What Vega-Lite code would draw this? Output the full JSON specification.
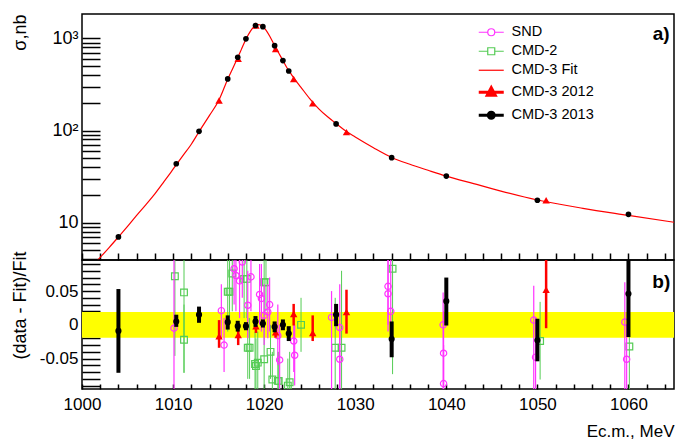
{
  "$schema": "https://vega.github.io/schema/vega-lite/v6.json",
  "background": "white",
  "padding": {"left": 10, "top": 13, "right": 2, "bottom": 2},
  "spacing": 0,
  "bounds": "flush",
  "config": {
    "view": {"stroke": "black", "strokeWidth": 1.5},
    "font": "Liberation Sans",
    "axis": {"domain": false, "grid": false, "labelFont": "Liberation Sans", "titleFont": "Liberation Sans", "labelColor": "black", "titleColor": "black", "tickColor": "black", "titleFontWeight": "normal"}
  },
  "datasets": {
    "fit": [
      {"E": 1001.7, "s": 3.9}, {"E": 1002, "s": 4.2}, {"E": 1003, "s": 5.4}, {"E": 1004, "s": 7.0}, {"E": 1005, "s": 9.1},
      {"E": 1006, "s": 12.0}, {"E": 1007, "s": 15.6}, {"E": 1008, "s": 20.5}, {"E": 1009, "s": 27.8}, {"E": 1010, "s": 38},
      {"E": 1011, "s": 52}, {"E": 1012, "s": 71}, {"E": 1012.85, "s": 97}, {"E": 1014, "s": 146}, {"E": 1015, "s": 210},
      {"E": 1016, "s": 360}, {"E": 1016.5, "s": 460}, {"E": 1017, "s": 590}, {"E": 1017.5, "s": 760}, {"E": 1018, "s": 980},
      {"E": 1018.5, "s": 1200}, {"E": 1019, "s": 1370}, {"E": 1019.4, "s": 1410}, {"E": 1019.8, "s": 1360}, {"E": 1020.2, "s": 1230},
      {"E": 1020.6, "s": 1060}, {"E": 1021, "s": 890}, {"E": 1021.5, "s": 720}, {"E": 1022, "s": 590}, {"E": 1022.5, "s": 480},
      {"E": 1023, "s": 405}, {"E": 1023.5, "s": 345}, {"E": 1024, "s": 298}, {"E": 1025, "s": 222}, {"E": 1026, "s": 172},
      {"E": 1027, "s": 140}, {"E": 1028, "s": 117}, {"E": 1029, "s": 98}, {"E": 1030, "s": 85}, {"E": 1032, "s": 65},
      {"E": 1034, "s": 51}, {"E": 1036, "s": 43}, {"E": 1038, "s": 37}, {"E": 1040, "s": 32}, {"E": 1043, "s": 26.5},
      {"E": 1046, "s": 22}, {"E": 1050, "s": 17.6}, {"E": 1055, "s": 14.3}, {"E": 1060, "s": 12.0}, {"E": 1065, "s": 10.1}
    ],
    "c13": [
      {"E": 1004.0, "s": 7.0, "v": -0.009, "lo": -0.071, "hi": 0.053},
      {"E": 1010.35, "s": 43.6, "v": 0.005, "lo": -0.003, "hi": 0.015},
      {"E": 1012.85, "s": 98, "v": 0.015, "lo": 0.003, "hi": 0.027},
      {"E": 1016.0, "s": 363, "v": 0.004, "lo": -0.007, "hi": 0.014},
      {"E": 1017.1, "s": 624, "v": -0.002, "lo": -0.01, "hi": 0.006},
      {"E": 1018.0, "s": 990, "v": -0.002, "lo": -0.008, "hi": 0.004},
      {"E": 1019.05, "s": 1380, "v": 0.005, "lo": -0.003, "hi": 0.013},
      {"E": 1019.86, "s": 1340, "v": 0.002, "lo": -0.004, "hi": 0.008},
      {"E": 1021.15, "s": 834, "v": -0.003, "lo": -0.011, "hi": 0.005},
      {"E": 1022.06, "s": 574, "v": 0.0, "lo": -0.008, "hi": 0.008},
      {"E": 1022.7, "s": 443, "v": -0.013, "lo": -0.024, "hi": -0.002},
      {"E": 1027.9, "s": 118, "v": 0.015, "lo": -0.002, "hi": 0.031},
      {"E": 1034.0, "s": 50.7, "v": -0.021, "lo": -0.048, "hi": 0.005},
      {"E": 1040.0, "s": 32, "v": 0.035, "lo": -0.001, "hi": 0.07},
      {"E": 1050.0, "s": 17.5, "v": -0.023, "lo": -0.054, "hi": 0.009},
      {"E": 1060.0, "s": 12.3, "v": 0.046, "lo": -0.018, "hi": 0.11}
    ],
    "c12": [
      {"E": 1015.05, "s": 212, "v": -0.017, "lo": -0.034, "hi": 0.007},
      {"E": 1017.15, "s": 600, "v": -0.015, "lo": -0.03, "hi": -0.004},
      {"E": 1019.1, "s": 1380, "v": -0.002, "lo": -0.012, "hi": 0.008},
      {"E": 1021.26, "s": 766, "v": -0.011, "lo": -0.019, "hi": 0.001},
      {"E": 1023.24, "s": 363, "v": 0.016, "lo": -0.001, "hi": 0.031},
      {"E": 1025.33, "s": 197, "v": -0.012, "lo": -0.024, "hi": 0.014},
      {"E": 1029.04, "s": 96, "v": 0.019, "lo": -0.013, "hi": 0.052},
      {"E": 1050.96, "s": 17.5, "v": 0.052, "lo": -0.005, "hi": 0.098}
    ],
    "snd": [
      {"E": 1010.1, "v": -0.005, "lo": -0.11, "hi": 0.11},
      {"E": 1015.3, "v": 0.021, "lo": -0.02, "hi": 0.06},
      {"E": 1015.6, "v": -0.03, "lo": -0.07, "hi": 0.01},
      {"E": 1016.7, "v": 0.083, "lo": 0.03, "hi": 0.13},
      {"E": 1016.9, "v": 0.073, "lo": 0.02, "hi": 0.12},
      {"E": 1017.3, "v": 0.065, "lo": 0.01, "hi": 0.12},
      {"E": 1017.6, "v": 0.093, "lo": 0.04, "hi": 0.14},
      {"E": 1018.2, "v": 0.029, "lo": -0.02, "hi": 0.08},
      {"E": 1018.55, "v": 0.071, "lo": 0.02, "hi": 0.12},
      {"E": 1019.5, "v": 0.045, "lo": 0.0, "hi": 0.09},
      {"E": 1019.7, "v": 0.039, "lo": -0.01, "hi": 0.09},
      {"E": 1020.0, "v": 0.014, "lo": -0.03, "hi": 0.06},
      {"E": 1020.4, "v": 0.019, "lo": -0.02, "hi": 0.06},
      {"E": 1020.6, "v": 0.03, "lo": -0.01, "hi": 0.07},
      {"E": 1021.5, "v": -0.016, "lo": -0.06, "hi": 0.03},
      {"E": 1021.7, "v": -0.052, "lo": -0.1, "hi": 0.0},
      {"E": 1023.25, "v": -0.024, "lo": -0.07, "hi": 0.02},
      {"E": 1023.35, "v": -0.045, "lo": -0.09, "hi": 0.0},
      {"E": 1027.4, "v": 0.011, "lo": -0.1, "hi": 0.05},
      {"E": 1028.3, "v": -0.004, "lo": -0.1, "hi": 0.06},
      {"E": 1028.3, "v": -0.051, "lo": -0.11, "hi": 0.0},
      {"E": 1033.6, "v": 0.057, "lo": 0.0, "hi": 0.11},
      {"E": 1033.6, "v": 0.046, "lo": -0.01, "hi": 0.1},
      {"E": 1033.9, "v": 0.02, "lo": -0.013, "hi": 0.1},
      {"E": 1039.65, "v": 0.0, "lo": -0.1, "hi": 0.048},
      {"E": 1039.7, "v": -0.042, "lo": -0.1, "hi": 0.02},
      {"E": 1039.7, "v": -0.087, "lo": -0.15, "hi": -0.03},
      {"E": 1049.6, "v": 0.007, "lo": -0.1, "hi": 0.058},
      {"E": 1049.8, "v": -0.048, "lo": -0.1, "hi": 0.01},
      {"E": 1059.6, "v": 0.004, "lo": -0.1, "hi": 0.063},
      {"E": 1059.8, "v": -0.051, "lo": -0.11, "hi": 0.0}
    ],
    "cmd2": [
      {"E": 1010.2, "v": 0.072, "lo": -0.046, "hi": 0.19},
      {"E": 1011.2, "v": 0.048, "lo": -0.071, "hi": 0.15},
      {"E": 1011.2, "v": -0.022, "lo": -0.071, "hi": 0.03},
      {"E": 1016.0, "v": 0.049, "lo": -0.01, "hi": 0.11},
      {"E": 1016.2, "v": 0.049, "lo": 0.0, "hi": 0.1},
      {"E": 1016.5, "v": 0.076, "lo": 0.02, "hi": 0.13},
      {"E": 1017.8, "v": 0.068, "lo": 0.01, "hi": 0.13},
      {"E": 1018.1, "v": 0.068, "lo": 0.01, "hi": 0.12},
      {"E": 1018.2, "v": -0.034, "lo": -0.08, "hi": 0.01},
      {"E": 1018.4, "v": -0.034, "lo": -0.08, "hi": 0.01},
      {"E": 1019.0, "v": -0.058, "lo": -0.1, "hi": -0.01},
      {"E": 1019.1, "v": -0.061, "lo": -0.1, "hi": -0.02},
      {"E": 1019.3, "v": -0.056, "lo": -0.1, "hi": -0.01},
      {"E": 1020.0, "v": -0.051, "lo": -0.1, "hi": 0.0},
      {"E": 1020.0, "v": 0.063, "lo": 0.01, "hi": 0.12},
      {"E": 1020.2, "v": 0.063, "lo": 0.02, "hi": 0.11},
      {"E": 1020.7, "v": -0.04, "lo": -0.08, "hi": 0.0},
      {"E": 1020.9, "v": -0.081, "lo": -0.12, "hi": -0.04},
      {"E": 1021.5, "v": -0.083, "lo": -0.13, "hi": -0.04},
      {"E": 1021.6, "v": -0.083, "lo": -0.13, "hi": -0.04},
      {"E": 1022.6, "v": -0.09, "lo": -0.13, "hi": -0.05},
      {"E": 1022.8, "v": -0.085, "lo": -0.13, "hi": -0.04},
      {"E": 1024.05, "v": 0.0, "lo": -0.04, "hi": 0.04},
      {"E": 1027.8, "v": -0.034, "lo": -0.11, "hi": 0.04},
      {"E": 1028.5, "v": -0.034, "lo": -0.11, "hi": 0.08},
      {"E": 1034.1, "v": 0.083, "lo": -0.073, "hi": 0.12},
      {"E": 1050.3, "v": -0.024, "lo": -0.081, "hi": 0.034},
      {"E": 1060.1, "v": -0.032, "lo": -0.1, "hi": 0.1}
    ],
    "band": [{"x1": 1000, "x2": 1065, "lo": -0.019, "hi": 0.019}]
  },
  "vconcat": [
    {
      "width": 592,
      "height": 246,
      "layer": [
        {
          "data": {"name": "fit"},
          "mark": {"type": "line", "strokeWidth": 1.2, "clip": true, "interpolate": "monotone"},
          "encoding": {
            "x": {"field": "E", "type": "quantitative", "scale": {"domain": [1000, 1065], "nice": false, "zero": false},
              "axis": {"orient": "bottom", "tickCount": 100, "values": [1000, 1002, 1004, 1006, 1008, 1010, 1012, 1014, 1016, 1018, 1020, 1022, 1024, 1026, 1028, 1030, 1032, 1034, 1036, 1038, 1040, 1042, 1044, 1046, 1048, 1050, 1052, 1054, 1056, 1058, 1060, 1062, 1064],
                "tickSize": -7, "tickWidth": 1.5, "labels": false, "title": null,
                "encode": {"ticks": {"update": {"y2": {"signal": "indexof([1000, 1010, 1020, 1030, 1040, 1050, 1060], datum.value) >= 0 ? -7 : -4"}}}}}},
            "y": {"field": "s", "type": "quantitative", "scale": {"type": "log", "domain": [3.93, 1840], "nice": false},
              "axis": {"orient": "left", "tickCount": 100, "values": [4, 5, 6, 7, 8, 9, 10, 20, 30, 40, 50, 60, 70, 80, 90, 100, 200, 300, 400, 500, 600, 700, 800, 900, 1000],
                "tickSize": -18, "tickWidth": 1.5, "labelPadding": 22, "labelFontSize": 18, "labelOverlap": false,
                "labelExpr": "datum.value == 1000 ? '10³' : datum.value == 100 ? '10²' : datum.value == 10 ? '10' : ''",
                "encode": {"ticks": {"update": {"x2": {"signal": "(datum.value == 10 || datum.value == 100 || datum.value == 1000) ? 18 : 10"}}}},
                "title": "σ,nb", "titleFontSize": 18, "titleAngle": -90, "titleAlign": "right", "titleBaseline": "middle", "titleX": -62, "titleY": 0}},
            "color": {"datum": "CMD-3 Fit", "type": "nominal",
              "scale": {"domain": ["SND", "CMD-2", "CMD-3 Fit", "CMD-3 2012", "CMD-3 2013"], "range": ["#ff33ff", "#55cc55", "#ff0000", "#ff0000", "#000000"]},
              "legend": {"title": null, "orient": "none", "legendX": 402, "legendY": 11, "padding": 0, "symbolSize": 100, "labelOffset": 13,
                "rowPadding": 4, "labelFont": "Liberation Sans", "labelFontSize": 14.5, "labelColor": "black",
                "encode": {"symbols": {"update": {
                  "shape": {"signal": "datum.value === 'SND' ? 'M-2.5,0H-0.7M0.7,0H2.5M0.7,0A0.7,0.7 0 1,1 -0.7,0A0.7,0.7 0 1,1 0.7,0' : datum.value === 'CMD-2' ? 'M-2.5,0H-0.7M0.7,0H2.5M-0.7,-0.7H0.7V0.7H-0.7Z' : datum.value === 'CMD-3 Fit' ? 'M-2.5,0H2.5' : datum.value === 'CMD-3 2012' ? 'M-2.5,0H2.5M0,-0.9L0.8,0.6H-0.8Z' : 'M-2.5,0H2.5M0.6,0A0.6,0.6 0 1,1 -0.6,0A0.6,0.6 0 1,1 0.6,0'"},
                  "fill": {"signal": "datum.value === 'CMD-3 2012' ? '#ff0000' : datum.value === 'CMD-3 2013' ? '#000000' : 'transparent'"},
                  "fillOpacity": {"signal": "datum.value === 'CMD-3 2012' || datum.value === 'CMD-3 2013' ? 1 : 0"},
                  "stroke": {"signal": "datum.value === 'SND' ? '#ff33ff' : datum.value === 'CMD-2' ? '#55cc55' : datum.value === 'CMD-3 2013' ? '#000000' : '#ff0000'"},
                  "strokeWidth": {"signal": "datum.value === 'CMD-3 2012' || datum.value === 'CMD-3 2013' ? 3 : 1.2"},
                  "opacity": {"value": 1}
                }}}}}
          }
        },
        {
          "data": {"name": "c12"},
          "mark": {"type": "point", "shape": "triangle-up", "filled": true, "size": 55, "opacity": 1},
          "encoding": {
            "x": {"field": "E", "type": "quantitative"},
            "y": {"field": "s", "type": "quantitative"},
            "color": {"datum": "CMD-3 2012", "type": "nominal"}
          }
        },
        {
          "data": {"name": "c13"},
          "mark": {"type": "point", "shape": "circle", "filled": true, "size": 32, "opacity": 1},
          "encoding": {
            "x": {"field": "E", "type": "quantitative"},
            "y": {"field": "s", "type": "quantitative"},
            "color": {"datum": "CMD-3 2013", "type": "nominal"}
          }
        },
        {
          "data": {"values": [{"t": "a)", "E": 1063.6, "s": 1125}]},
          "mark": {"type": "text", "fontSize": 19, "fontWeight": "bold", "font": "Liberation Sans", "color": "black", "align": "center", "baseline": "middle"},
          "encoding": {
            "x": {"field": "E", "type": "quantitative"},
            "y": {"field": "s", "type": "quantitative"},
            "text": {"field": "t"}
          }
        }
      ]
    },
    {
      "width": 592,
      "height": 129,
      "layer": [
        {
          "data": {"name": "band"},
          "mark": {"type": "rect", "color": "#ffff00"},
          "encoding": {
            "x": {"field": "x1", "type": "quantitative", "scale": {"domain": [1000, 1065], "nice": false, "zero": false},
              "axis": {"orient": "bottom", "tickCount": 100, "values": [1000, 1002, 1004, 1006, 1008, 1010, 1012, 1014, 1016, 1018, 1020, 1022, 1024, 1026, 1028, 1030, 1032, 1034, 1036, 1038, 1040, 1042, 1044, 1046, 1048, 1050, 1052, 1054, 1056, 1058, 1060, 1062, 1064],
                "tickSize": -5, "tickWidth": 1.5, "labelPadding": 12, "labelFontSize": 17, "labelFlush": false, "labelOverlap": false,
                "labelExpr": "indexof([1000, 1010, 1020, 1030, 1040, 1050, 1060], datum.value) >= 0 ? '' + datum.value : ''",
                "encode": {"ticks": {"update": {"y2": {"signal": "indexof([1000, 1010, 1020, 1030, 1040, 1050, 1060], datum.value) >= 0 ? -5 : -3"}}}},
                "title": "Ec.m., MeV", "titleFontSize": 17, "titleAlign": "right", "titleBaseline": "alphabetic", "titleX": 592, "titleY": 47}},
            "x2": {"field": "x2"},
            "y": {"field": "lo", "type": "quantitative", "scale": {"domain": [-0.095, 0.096], "nice": false, "zero": false},
              "axis": {"orient": "left", "tickCount": 100, "values": [-0.09, -0.08, -0.07, -0.06, -0.05, -0.04, -0.03, -0.02, -0.01, 0, 0.01, 0.02, 0.03, 0.04, 0.05, 0.06, 0.07, 0.08, 0.09],
                "tickSize": -18, "tickWidth": 1.5, "labelPadding": 22, "labelFontSize": 17, "labelFlush": false, "labelOverlap": false,
                "labelExpr": "datum.value == 0.05 ? '0.05' : datum.value == -0.05 ? '-0.05' : datum.value == 0 ? '0' : ''",
                "encode": {"ticks": {"update": {"x2": {"signal": "(datum.value == 0 || datum.value == 0.05 || datum.value == -0.05) ? 18 : 9"}}}},
                "title": "(data - Fit)/Fit", "titleFontSize": 18, "titleAngle": -90, "titleAlign": "right", "titleBaseline": "middle", "titleX": -62, "titleY": -9}},
            "y2": {"field": "hi"}
          }
        },
        {
          "data": {"name": "cmd2"},
          "mark": {"type": "rule", "color": "#55cc55", "strokeWidth": 1, "clip": true},
          "encoding": {
            "x": {"field": "E", "type": "quantitative"},
            "y": {"field": "lo", "type": "quantitative"},
            "y2": {"field": "hi"}
          }
        },
        {
          "data": {"name": "cmd2"},
          "mark": {"type": "point", "shape": "square", "filled": false, "color": "#55cc55", "size": 45, "strokeWidth": 1.2, "opacity": 1, "clip": true},
          "encoding": {
            "x": {"field": "E", "type": "quantitative"},
            "y": {"field": "v", "type": "quantitative"}
          }
        },
        {
          "data": {"name": "snd"},
          "mark": {"type": "rule", "color": "#ff33ff", "strokeWidth": 1.2, "clip": true},
          "encoding": {
            "x": {"field": "E", "type": "quantitative"},
            "y": {"field": "lo", "type": "quantitative"},
            "y2": {"field": "hi"}
          }
        },
        {
          "data": {"name": "snd"},
          "mark": {"type": "point", "shape": "circle", "filled": false, "color": "#ff33ff", "size": 40, "strokeWidth": 1.2, "opacity": 1, "clip": true},
          "encoding": {
            "x": {"field": "E", "type": "quantitative"},
            "y": {"field": "v", "type": "quantitative"}
          }
        },
        {
          "data": {"name": "c12"},
          "mark": {"type": "rule", "color": "#ff0000", "strokeWidth": 2.5, "clip": true},
          "encoding": {
            "x": {"field": "E", "type": "quantitative"},
            "y": {"field": "lo", "type": "quantitative"},
            "y2": {"field": "hi"}
          }
        },
        {
          "data": {"name": "c12"},
          "mark": {"type": "point", "shape": "triangle-up", "filled": true, "color": "#ff0000", "size": 55, "opacity": 1, "clip": true},
          "encoding": {
            "x": {"field": "E", "type": "quantitative"},
            "y": {"field": "v", "type": "quantitative"}
          }
        },
        {
          "data": {"name": "c13"},
          "mark": {"type": "rule", "color": "#000000", "strokeWidth": 4, "clip": true},
          "encoding": {
            "x": {"field": "E", "type": "quantitative"},
            "y": {"field": "lo", "type": "quantitative"},
            "y2": {"field": "hi"}
          }
        },
        {
          "data": {"name": "c13"},
          "mark": {"type": "point", "shape": "circle", "filled": true, "color": "#000000", "size": 38, "opacity": 1, "clip": true},
          "encoding": {
            "x": {"field": "E", "type": "quantitative"},
            "y": {"field": "v", "type": "quantitative"}
          }
        },
        {
          "data": {"values": [{"t": "b)", "E": 1063.6, "v": 0.064}]},
          "mark": {"type": "text", "fontSize": 19, "fontWeight": "bold", "font": "Liberation Sans", "color": "black", "align": "center", "baseline": "middle"},
          "encoding": {
            "x": {"field": "E", "type": "quantitative"},
            "y": {"field": "v", "type": "quantitative"},
            "text": {"field": "t"}
          }
        }
      ]
    }
  ]
}
